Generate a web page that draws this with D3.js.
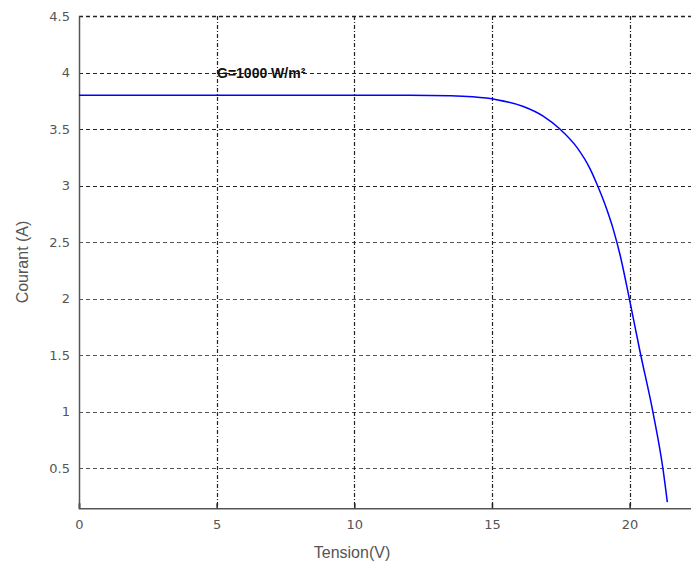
<!DOCTYPE html>
<html><head><meta charset="utf-8">
<script src="https://cdn.jsdelivr.net/npm/d3@7"></script>
<style>body{margin:0;background:#fff;} svg{display:block;}</style>
</head><body>
<svg id="c" width="691" height="564"></svg>
<script>
const tension = [0, 2, 4, 6, 8, 10, 12, 13.5, 14.3, 15.17, 16.14, 16.86, 17.47, 18.08, 18.56, 18.8, 19.17, 19.41, 19.65, 19.99, 20.38, 20.86, 21.22, 21.37];
const courant = [3.8, 3.8, 3.8, 3.8, 3.8, 3.8, 3.8, 3.795, 3.785, 3.76, 3.70, 3.615, 3.50, 3.34, 3.15, 3.02, 2.79, 2.61, 2.39, 2.0, 1.53, 0.98, 0.48, 0.2];
const xTicks = [0, 5, 10, 15, 20];
const yTicks = [0.5, 1, 1.5, 2, 2.5, 3, 3.5, 4, 4.5];
const annotation = "G=1000 W/m²";
const xLabel = "Tension(V)", yLabel = "Courant (A)";

const svg = d3.select("#c");
const x = d3.scaleLinear().domain([0, 22.5]).range([79, 79 + 22.5 * 27.53]);
const y = d3.scaleLinear().domain([0.145, 4.5]).range([508.3, 16]);
const x0 = x.range()[0], x1 = x.range()[1], yb = y.range()[0], yt = y.range()[1];

// grid
svg.append("g").selectAll("line").data(yTicks).join("line")
  .attr("x1", x0).attr("x2", x1).attr("y1", d => Math.round(y(d)) + 0.5).attr("y2", d => Math.round(y(d)) + 0.5)
  .attr("stroke", d => d >= 3 ? "#222" : "#555").attr("stroke-width", d => d === 4.5 ? 1.6 : 1.2)
  .attr("stroke-dasharray", "4,3");
svg.append("g").selectAll("line").data(xTicks.filter(d => d > 0)).join("line")
  .attr("x1", d => Math.round(x(d)) + 0.5).attr("x2", d => Math.round(x(d)) + 0.5).attr("y1", yt).attr("y2", yb)
  .attr("stroke", "#222").attr("stroke-width", 1.2).attr("stroke-dasharray", "4,2,1,2");

// axes
const xAxis = d3.axisBottom(x).tickValues(xTicks).tickSize(-5).tickPadding(11).tickFormat(d3.format("d"));
const gx = svg.append("g").attr("transform", `translate(0,${yb})`).call(xAxis);
const yAxis = d3.axisLeft(y).tickValues(yTicks).tickSize(0).tickPadding(9).tickFormat(d => String(d));
const gy = svg.append("g").attr("transform", `translate(${x0},0)`).call(yAxis);
[gx, gy].forEach(g => {
  g.select(".domain").attr("stroke", "#555").attr("stroke-width", 1.5);
  g.selectAll(".tick line").attr("stroke", "#222").attr("stroke-width", 1.5);
  g.selectAll("text").attr("fill", "#555").attr("font-family", "'DejaVu Sans', sans-serif").attr("font-size", 13);
});

// curve
const line = d3.line().x((d, i) => x(tension[i])).y(d => y(d)).curve(d3.curveMonotoneX);
svg.append("path").datum(courant).attr("d", line).attr("fill", "none")
  .attr("stroke", "#0000ff").attr("stroke-width", 1.5);

// annotation
svg.append("text").attr("x", 217).attr("y", 78).text(annotation)
  .attr("font-family", "'Liberation Sans', Arial, sans-serif").attr("font-weight", "bold").attr("font-size", 14).attr("fill", "#111");

// labels
svg.append("text").attr("x", 352).attr("y", 558).attr("text-anchor", "middle").text(xLabel)
  .attr("font-family", "'Liberation Sans', Arial, sans-serif").attr("font-size", 16).attr("fill", "#555");
svg.append("text").attr("transform", "translate(28,262) rotate(-90)").attr("text-anchor", "middle").text(yLabel)
  .attr("font-family", "'Liberation Sans', Arial, sans-serif").attr("font-size", 16).attr("fill", "#555");
</script>
</body></html>
